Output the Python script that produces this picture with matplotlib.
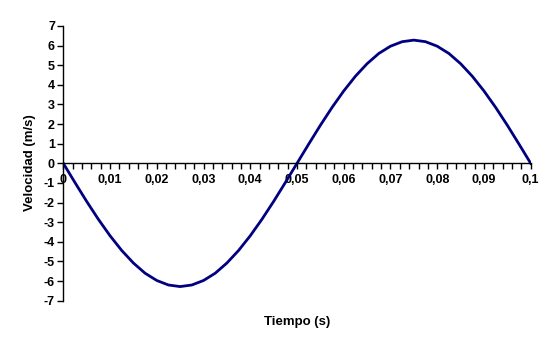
import matplotlib
matplotlib.use('Agg')
from matplotlib import pyplot as plt
from matplotlib.ticker import MultipleLocator

plt.rcParams['font.family'] = ['Liberation Sans', 'DejaVu Sans']
plt.rcParams['font.weight'] = 'bold'

# Datos (paso de 0,0025 s)
tiempo = [0.0, 0.0025, 0.005, 0.0075, 0.01, 0.0125, 0.015, 0.0175, 0.02, 0.0225,
          0.025, 0.0275, 0.03, 0.0325, 0.035, 0.0375, 0.04, 0.0425, 0.045, 0.0475,
          0.05, 0.0525, 0.055, 0.0575, 0.06, 0.0625, 0.065, 0.0675, 0.07, 0.0725,
          0.075, 0.0775, 0.08, 0.0825, 0.085, 0.0875, 0.09, 0.0925, 0.095, 0.0975, 0.1]
velocidad = [0.0, -0.98, -1.94, -2.85, -3.69, -4.44, -5.08, -5.60, -5.97, -6.20,
             -6.28, -6.20, -5.97, -5.60, -5.08, -4.44, -3.69, -2.85, -1.94, -0.98,
             0.0, 0.98, 1.94, 2.85, 3.69, 4.44, 5.08, 5.60, 5.97, 6.20,
             6.28, 6.20, 5.97, 5.60, 5.08, 4.44, 3.69, 2.85, 1.94, 0.98, 0.0]

x_ticks = [0, 0.01, 0.02, 0.03, 0.04, 0.05, 0.06, 0.07, 0.08, 0.09, 0.1]
x_labels = ['0', '0,01', '0,02', '0,03', '0,04', '0,05', '0,06', '0,07', '0,08', '0,09', '0,1']
y_ticks = list(range(-7, 8))
y_labels = [str(v) for v in y_ticks]

fig = plt.figure(figsize=(5.6, 3.51), dpi=100)
ax = fig.add_axes([63.3 / 560, 1 - 300.7 / 351, (530.7 - 63.3) / 560, (300.7 - 26) / 351])

ax.plot(tiempo, velocidad, color='#000080', linewidth=2.0, solid_joinstyle='round')

ax.set_xlim(0, 0.1)
ax.set_ylim(-7, 7)

ax.spines['top'].set_visible(False)
ax.spines['right'].set_visible(False)
ax.spines['bottom'].set_position(('data', 0))
for s in ('left', 'bottom'):
    ax.spines[s].set_linewidth(1.0)
    ax.spines[s].set_color('black')

ax.set_xticks(x_ticks)
ax.set_xticklabels(x_labels)
ax.xaxis.set_minor_locator(MultipleLocator(0.002))
ax.set_yticks(y_ticks)
ax.set_yticklabels(y_labels)

ax.tick_params(axis='x', which='both', direction='out', length=4, width=1, labelsize=9, pad=4)
ax.tick_params(axis='y', which='both', direction='out', length=4, width=1, labelsize=9, pad=2)
for lab in ax.get_xticklabels() + ax.get_yticklabels():
    lab.set_fontweight('bold')

fig.text(297 / 560, 1 - 322 / 351, 'Tiempo (s)', ha='center', va='center', fontsize=9.5, fontweight='bold')
fig.text(30 / 560, 1 - 163 / 351, 'Velocidad (m/s)', ha='center', va='center', rotation=90,
         fontsize=9.5, fontweight='bold')

fig.savefig('out.png', dpi=100)
